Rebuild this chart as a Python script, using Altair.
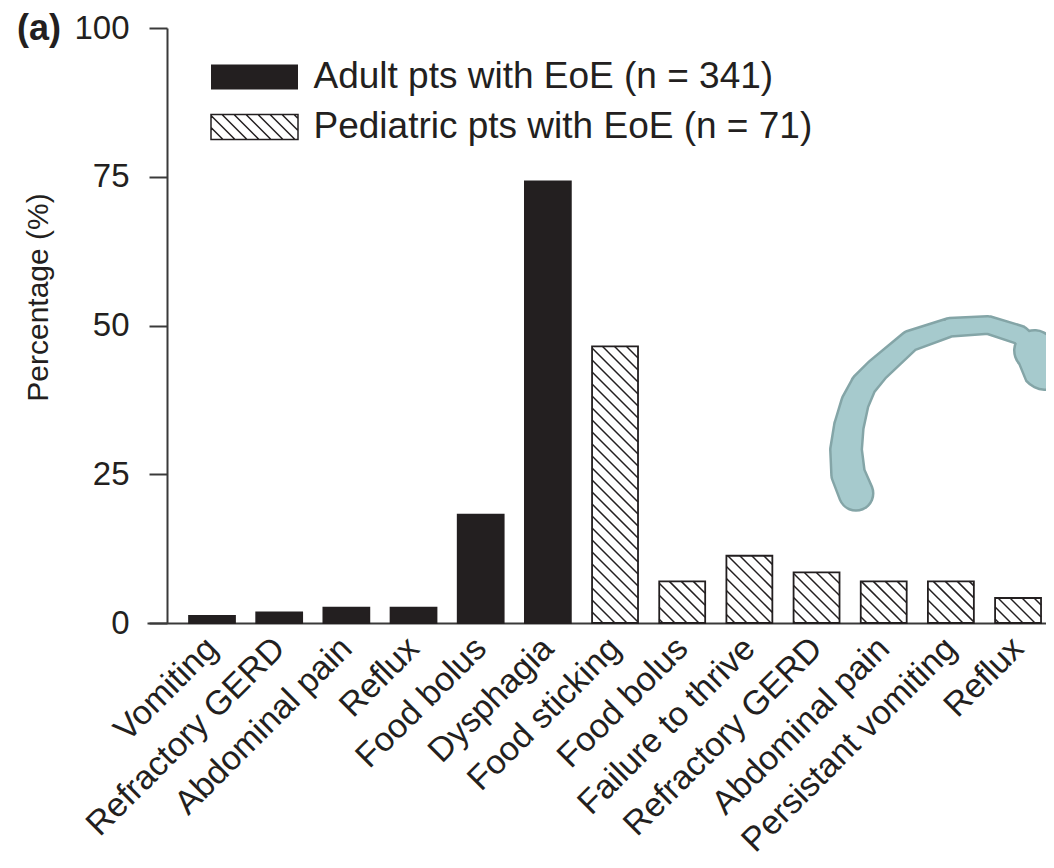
import json
import math
import altair as alt
import pandas as pd

# ---------------- data ----------------
CATEGORIES = ["Vomiting", "Refractory GERD", "Abdominal pain", "Reflux", "Food bolus",
              "Dysphagia", "Food sticking", "Food bolus", "Failure to thrive",
              "Refractory GERD", "Abdominal pain", "Persistant vomiting", "Reflux"]
VALUES = [1.2, 1.8, 2.6, 2.6, 18.2, 74.2, 46.5, 7.0, 11.3, 8.5, 7.0, 7.0, 4.2]
GROUPS = ["Adult"] * 6 + ["Pediatric"] * 7
LEGEND_LABELS = ["Adult pts with EoE (n = 341)", "Pediatric pts with EoE (n = 71)"]
Y_TICKS = [0, 25, 50, 75, 100]

# decorative curved arrow (data units), with its width in px
ARROW_X = [9.587, 9.47, 9.439, 9.48, 9.572, 9.70, 9.900, 10.391, 10.987, 11.552, 12.029, 12.20, 12.245, 12.416]
ARROW_Y = [21.8, 25.0, 29.1, 33.0, 37.0, 40.0, 42.5, 47.4, 49.7, 50.1, 48.4, 46.4, 45.8, 43.6]
ARROW_W = [32, 31, 29, 27, 25, 23, 21, 18, 16, 15, 16, 18, 38, 50]

# ---------------- layout / style ----------------
PLOT_W, PLOT_H = 899, 595
XMIN, XMAX = -0.968, 12.416
BAR_HALF = 0.342
INK = "#231f20"
FONT = "Liberation Sans"

KX = PLOT_W / (XMAX - XMIN)
KY = PLOT_H / 100.0

bars = pd.DataFrame({
    "idx": list(range(len(CATEGORIES))),
    "label": CATEGORIES,
    "value": VALUES,
    "kind": GROUPS,
    "group": [LEGEND_LABELS[0] if g == "Adult" else LEGEND_LABELS[1] for g in GROUPS],
})
bars["x0"] = bars["idx"] - BAR_HALF
bars["x1"] = bars["idx"] + BAR_HALF

# hatch segments inside each pediatric bar (45 degree "\" lines)
HATCH_STEP = 12.0
segs = []
for i, (v, g) in enumerate(zip(VALUES, GROUPS)):
    if g != "Pediatric":
        continue
    bx0 = (i - BAR_HALF - XMIN) * KX
    bx1 = (i + BAR_HALF - XMIN) * KX
    bh = v * KY
    s = math.ceil(bx0 / HATCH_STEP) * HATCH_STEP
    while s < bx1 + bh:
        lo = max(bx0, s - bh)
        hi = min(bx1, s)
        if hi - lo > 0.8:
            segs.append({"x": XMIN + lo / KX, "y": (s - lo) / KY,
                         "x2": XMIN + hi / KX, "y2": (s - hi) / KY})
        s += HATCH_STEP
hatch = pd.DataFrame(segs)

# legend symbol paths
A, B = 2.175, 0.625
rect_path = f"M{-A},{-B}H{A}V{B}H{-A}Z"
hp = [rect_path]
t = -A - B + 0.6
while t < A + B:
    lo = max(-A, t - B)
    hi = min(A, t + B)
    if hi - lo > 0.05:
        hp.append(f"M{lo:.3f},{lo - t:.3f}L{hi:.3f},{hi - t:.3f}")
    t += 0.6
hatch_path = "".join(hp)

x_scale = alt.Scale(domain=[XMIN, XMAX], nice=False, zero=False)
y_scale = alt.Scale(domain=[0, 100], nice=False)

label_expr = "[" + ",".join(json.dumps(c) for c in CATEGORIES) + "][datum.value]"

x_axis = alt.Axis(values=list(range(len(CATEGORIES))), labelExpr=label_expr, title=None,
                  ticks=False, grid=False, labelAngle=315, labelAlign="right",
                  labelBaseline="middle", labelFontSize=34, labelFont=FONT, labelColor=INK,
                  labelPadding=20, labelOverlap=False, labelFlush=False,
                  labelBound=False, labelLimit=500,
                  domainColor="#3a3a3a", domainWidth=2)
y_axis = alt.Axis(values=Y_TICKS, title="Percentage (%)", grid=False, offset=-20,
                  tickSize=18, tickWidth=2, tickColor="#3a3a3a", domainColor="#3a3a3a",
                  domainWidth=2, labelFontSize=33, labelFont=FONT, labelColor=INK,
                  labelPadding=20, titleFontSize=30, titleFont=FONT, titleColor=INK,
                  titleFontWeight="normal", titleX=-129, titleY=269, titleBaseline="middle",
                  titleAlign="center", titleAngle=270)

bar_layer = alt.Chart(bars).mark_rect(stroke=INK, strokeWidth=1.8).encode(
    x=alt.X("x0:Q", scale=x_scale, axis=x_axis),
    x2="x1:Q",
    y=alt.Y("value:Q", scale=y_scale, axis=y_axis),
    y2=alt.datum(0),
    fill=alt.Fill("kind:N", scale=alt.Scale(domain=["Adult", "Pediatric"], range=[INK, "#ffffff"]),
                  legend=None),
)

hatch_layer = alt.Chart(hatch).mark_rule(color=INK, strokeWidth=1.5).encode(
    x="x:Q", x2="x2:Q", y="y:Q", y2="y2:Q"
)


def legend_for(label, path, filled, ly):
    leg = alt.Legend(title=None, orient="none", legendX=86.5, legendY=ly, padding=0,
                     symbolSize=1600, symbolStrokeColor=INK,
                     symbolStrokeWidth=1.5, symbolOpacity=1,
                     labelFontSize=37, labelFont=FONT, labelColor=INK, labelOffset=38,
                     labelLimit=700)
    return alt.Chart(bars).transform_filter(alt.datum.group == label).transform_filter("false").mark_point(
        filled=filled, color=INK, strokeWidth=1.5, opacity=1
    ).encode(
        x="idx:Q", y="value:Q",
        shape=alt.Shape("group:N", scale=alt.Scale(domain=[label], range=[path]), legend=leg),
    )


legend_adult = legend_for(LEGEND_LABELS[0], rect_path, True, 28)
legend_ped = legend_for(LEGEND_LABELS[1], hatch_path, False, 78)

arrow = pd.DataFrame({"x": ARROW_X, "y": ARROW_Y, "w": ARROW_W, "i": list(range(len(ARROW_X)))})
arrow["wo"] = arrow["w"] + 5
arrow_outer = alt.Chart(arrow).mark_trail(color="#84a5a7").encode(
    x="x:Q", y="y:Q", order="i:Q", size=alt.Size("wo:Q", scale=None, legend=None))
arrow_inner = alt.Chart(arrow).mark_trail(color="#a6cacd").encode(
    x="x:Q", y="y:Q", order="i:Q", size=alt.Size("w:Q", scale=None, legend=None))

panel = alt.Chart(pd.DataFrame({"t": ["(a)"]})).mark_text(
    font=FONT, fontSize=36, fontWeight="bold", align="left", baseline="alphabetic", color=INK
).encode(x=alt.value(-130), y=alt.value(12), text="t:N")

chart = alt.layer(arrow_outer, arrow_inner, bar_layer, hatch_layer, legend_adult, legend_ped,
                  panel).resolve_scale(shape="independent").properties(
    width=PLOT_W, height=PLOT_H,
    autosize=alt.AutoSizeParams(type="none"),
    padding={"left": 139, "top": 20, "right": 0, "bottom": 237},
).configure_view(stroke=None)

chart.save("out.html", embed_options={"renderer": "svg", "actions": False})
